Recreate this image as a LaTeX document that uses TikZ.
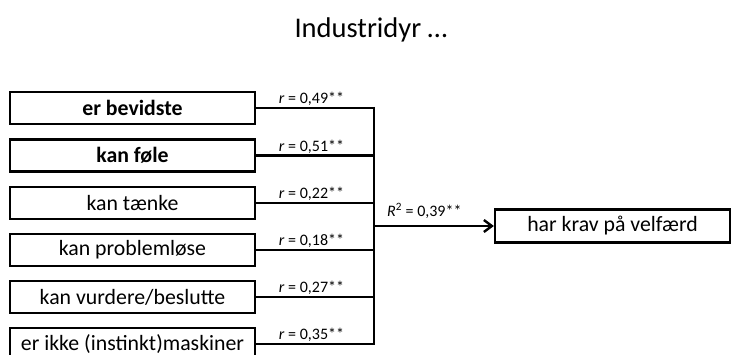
\documentclass[tikz,border=0pt]{standalone}
\usepackage{fontspec}
\setmainfont{Carlito}
\usepackage{tikz}
\usetikzlibrary{arrows.meta, positioning, calc}
\definecolor{border}{RGB}{0,0,0}
\tikzset{
    itembox/.style={
        rectangle,
        draw=border,
        line width=2.2pt,
        align=center,
        inner sep=2pt,
        minimum width=245pt,
        minimum height=32pt,
        font=\fontsize{21.8}{24}\selectfont
    },
    outbox/.style={
        rectangle,
        draw=border,
        line width=2.2pt,
        align=center,
        inner sep=2pt,
        minimum width=235pt,
        minimum height=33pt,
        font=\fontsize{21.8}{24}\selectfont
    },
    lbl/.style={
        font=\fontsize{16}{18}\selectfont,
        inner sep=1pt
    },
    link/.style={line width=2.2pt},
    arrow/.style={-{Straight Barb[length=8pt, width=12pt]}, line width=2.4pt}
}

\begin{document}
\begin{tikzpicture}[x=1pt, y=-1pt]

\useasboundingbox (0,0) rectangle (732,355);

% =========================
% Titolo
% =========================
\node[font=\fontsize{28.5}{32}\selectfont] (title) at (371,30) {Industridyr …};

% =========================
% Box di sinistra
% =========================
\node[itembox, font=\bfseries\fontsize{21.8}{24}\selectfont] (bevidste) at (132.5,108) {er bevidste};
\node[itembox, font=\bfseries\fontsize{21.8}{24}\selectfont] (foele) at (132.5,155.5) {kan føle};
\node[itembox] (taenke) at (132.5,203) {kan tænke};
\node[itembox] (problem) at (132.5,250) {kan problemløse};
\node[itembox] (vurdere) at (132.5,297) {kan vurdere/beslutte};
\node[itembox] (maskiner) at (132.5,344) {er ikke (instinkt)maskiner};

% =========================
% Box di destra
% =========================
\node[outbox] (velfaerd) at (612.5,226) {har krav på velfærd};

% =========================
% Linea verticale di raccolta
% =========================
\coordinate (bustop) at (374,108);
\coordinate (busbot) at (374,344);
\coordinate (busout) at (374,226);

\draw[line width=2.6pt] ($(bustop)+(0,-1.1)$) -- ($(busbot)+(0,1.1)$);

% =========================
% Collegamenti con le correlazioni
% =========================
\draw[link] (bevidste.east) -- (bevidste.east -| bustop)
    node[lbl, pos=0.47, above] {\textit{r} = 0,49**};
\draw[link] (foele.east) -- (foele.east -| bustop)
    node[lbl, pos=0.47, above] {\textit{r} = 0,51**};
\draw[link] (taenke.east) -- (taenke.east -| bustop)
    node[lbl, pos=0.47, above] {\textit{r} = 0,22**};
\draw[link] (problem.east) -- (problem.east -| bustop)
    node[lbl, pos=0.47, above] {\textit{r} = 0,18**};
\draw[link] (vurdere.east) -- (vurdere.east -| bustop)
    node[lbl, pos=0.47, above] {\textit{r} = 0,27**};
\draw[link] (maskiner.east) -- (maskiner.east -| bustop)
    node[lbl, pos=0.47, above] {\textit{r} = 0,35**};

% =========================
% Freccia verso la variabile dipendente
% =========================
\draw[arrow] (busout) -- (velfaerd.west)
    node[lbl, pos=0.42, above=5pt] {\textit{R}\textsuperscript{2} = 0,39**};

\end{tikzpicture}
\end{document}
